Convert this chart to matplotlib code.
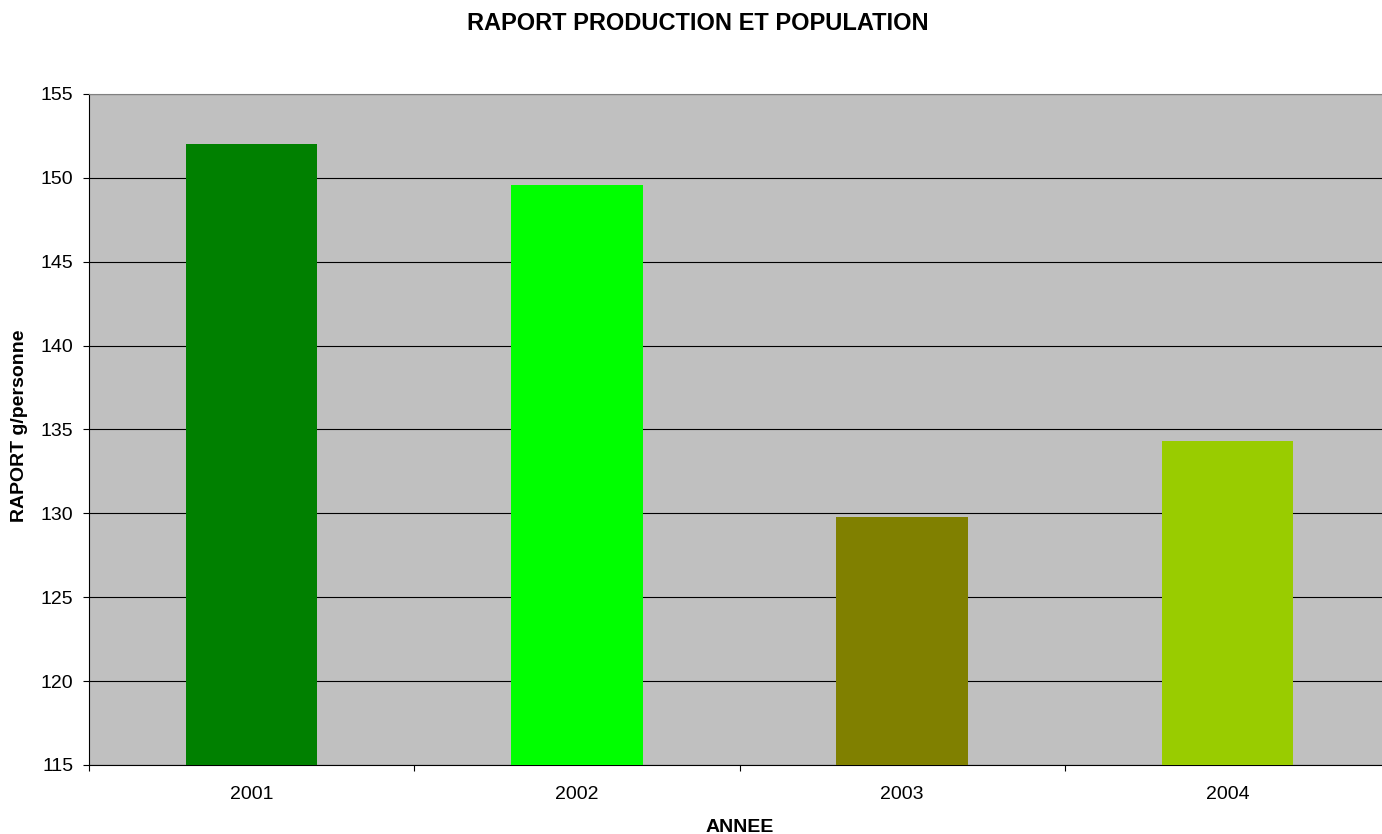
import matplotlib.pyplot as plt
from matplotlib.ticker import FixedLocator, NullFormatter

plt.rcParams['font.family'] = ['Liberation Sans', 'DejaVu Sans']

years = ["2001", "2002", "2003", "2004"]
ratio = [152.0, 149.6, 129.8, 134.3]
colors = ["#008000", "#00FF00", "#808000", "#99CC00"]

W, H = 1382, 834
fig = plt.figure(figsize=(W / 100, H / 100), dpi=100)
ax = fig.add_axes([89 / W, (H - 765) / H, (1390 - 89) / W, 671 / H])
ax.set_facecolor("#C0C0C0")

x = list(range(len(years)))
ax.bar(x, [v - 115 for v in ratio], bottom=115, width=0.405, color=colors, zorder=3)

ax.set_xlim(-0.5, len(years) - 0.5)
ax.set_ylim(115, 155)
ax.set_yticks(range(115, 156, 5))
ax.yaxis.grid(True, color="black", linewidth=0.8, zorder=1)

ax.xaxis.set_major_locator(FixedLocator([i - 0.5 for i in range(len(years) + 1)]))
ax.xaxis.set_major_formatter(NullFormatter())
ax.xaxis.set_minor_locator(FixedLocator(x))
ax.set_xticklabels(years, minor=True)
ax.tick_params(axis="x", which="minor", length=0, pad=15, labelsize=14)
ax.tick_params(axis="x", which="major", length=4.3, width=0.8, direction="out")
ax.tick_params(axis="y", length=4.3, width=0.8, direction="out", labelsize=14, pad=7)

ax.spines['top'].set_color("#808080")
ax.spines['right'].set_visible(False)
ax.spines['left'].set_color("black")
ax.spines['bottom'].set_color("black")

fig.text(698 / W, 1 - 24 / H, "RAPORT PRODUCTION ET POPULATION", ha="center", va="center",
         fontsize=17, fontweight="bold")
fig.text(740 / W, 1 - 827 / H, "ANNEE", ha="center", va="center", fontsize=14, fontweight="bold")
fig.text(20 / W, 1 - 426 / H, "RAPORT g/personne", ha="center", va="center", rotation=90,
         fontsize=14, fontweight="bold")

fig.savefig("out.png", dpi=100)
